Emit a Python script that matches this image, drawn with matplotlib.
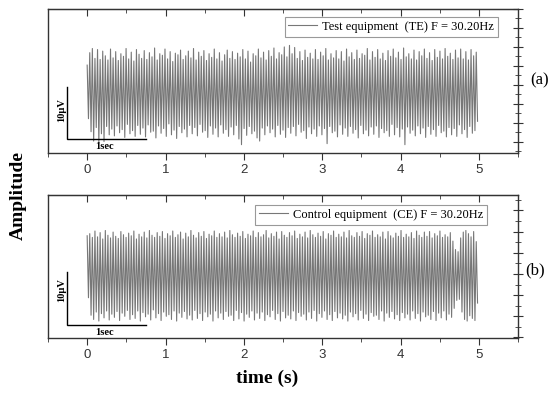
import numpy as np
import matplotlib
matplotlib.use('Agg')
import matplotlib.pyplot as plt
from matplotlib.ticker import MultipleLocator, AutoMinorLocator

F = 30.20  # Hz, as given in the legends

# peak / trough values (uV) per cycle
peaks_te = [3.8, 6.2, 7.0, 5.1, 6.8, 4.9, 6.5, 5.6, 4.8, 6.9,
            5.2, 6.4, 4.7, 6.0, 5.5, 7.0, 5.0, 6.3, 4.6, 6.8,
            5.9, 5.1, 6.6, 4.9, 6.2, 5.4, 7.1, 4.8, 6.0, 5.7,
            6.9, 5.0, 6.4, 4.5, 6.1, 5.8, 6.7, 4.9, 5.6, 6.5,
            5.2, 7.0, 4.8, 6.3, 5.5, 6.6, 4.7, 6.0, 5.3, 6.9,
            5.0, 6.2, 4.6, 5.8, 6.7, 5.1, 6.4, 4.9, 6.1, 5.4,
            6.8, 5.0, 6.5, 4.4, 6.0, 5.6, 6.9, 5.2, 6.3, 4.8,
            6.6, 5.5, 7.1, 5.0, 6.2, 5.8, 7.3, 5.4, 7.6, 6.0,
            7.2, 5.1, 6.4, 4.7, 6.7, 5.3, 6.1, 5.0, 6.8, 4.9,
            6.3, 5.6, 7.0, 4.8, 6.0, 5.2, 6.6, 5.0, 6.4, 4.6,
            6.9, 5.4, 6.2, 4.9, 6.7, 5.1, 6.0, 5.7, 7.0, 4.8,
            6.4, 5.3, 6.8, 5.0, 6.1, 4.7, 6.6, 5.5, 6.9, 5.2,
            6.3, 4.9, 7.1, 5.4, 6.0, 5.0, 6.7, 4.8, 6.4, 5.6,
            6.9, 5.1, 6.2, 4.7, 6.8, 5.3, 6.5, 5.0, 7.0, 5.5,
            6.1, 4.9, 6.7, 5.2, 6.9, 5.0, 6.4, 4.8, 6.8, 5.6, 6.3]
troughs_te = [-6.5, -9.0, -10.8, -8.2, -11.2, -9.4, -10.9, -8.0, -9.6, -8.5,
              -9.8, -7.9, -9.2, -8.6, -10.1, -7.6, -9.4, -8.8, -9.9, -7.8,
              -9.5, -8.3, -10.0, -7.7, -9.1, -8.9, -10.2, -7.9, -9.3, -8.4,
              -9.9, -7.5, -9.6, -8.7, -10.3, -8.0, -9.2, -8.5, -10.0, -7.8,
              -9.4, -8.2, -9.8, -7.6, -9.1, -8.8, -10.1, -7.9, -9.5, -8.3,
              -10.0, -7.7, -9.3, -8.6, -9.9, -8.1, -9.6, -7.8, -10.4, -11.5,
              -8.4, -9.7, -8.0, -9.4, -8.9, -10.2, -10.8, -8.3, -9.6, -7.9,
              -9.2, -8.5, -10.0, -7.8, -9.5, -8.7, -10.1, -8.2, -9.3, -8.0,
              -9.8, -7.6, -9.1, -8.8, -10.3, -8.1, -9.4, -8.5, -9.9, -7.9,
              -9.6, -8.4, -11.3, -8.0, -9.2, -8.9, -10.0, -7.7, -9.5, -8.3,
              -9.9, -8.0, -9.3, -8.6, -10.2, -7.8, -9.4, -8.7, -9.8, -8.1,
              -9.5, -7.9, -10.1, -8.4, -9.2, -8.8, -9.9, -7.6, -9.6, -8.2,
              -10.0, -8.5, -11.5, -8.1, -9.3, -8.7, -9.8, -7.9, -9.4, -8.3,
              -10.1, -8.0, -9.5, -8.6, -9.9, -7.8, -9.2, -8.9, -10.0, -8.2,
              -9.6, -8.4, -9.9, -7.7, -9.4, -8.6, -10.1, -8.0, -9.3, -8.8, -7.0]

peaks_ce = [7.2, 7.6, 6.9, 8.1, 7.0, 7.8, 6.6, 8.2, 7.3, 6.8,
            7.9, 7.1, 6.7, 8.0, 7.4, 6.9, 7.7, 7.2, 8.1, 6.6,
            7.5, 7.0, 7.9, 6.8, 8.2, 7.3, 6.9, 7.8, 7.1, 8.0,
            6.7, 7.6, 7.2, 8.1, 6.9, 7.4, 7.9, 6.6, 7.7, 7.0,
            8.2, 7.3, 6.8, 7.8, 7.1, 8.0, 6.7, 7.5, 7.2, 8.1,
            6.9, 7.6, 7.0, 7.9, 6.8, 8.2, 7.4, 6.9, 7.7, 7.1,
            8.0, 6.7, 7.5, 7.2, 8.1, 6.9, 7.8, 7.0, 7.4, 8.2,
            6.8, 7.6, 7.1, 7.9, 6.6, 8.0, 7.3, 6.9, 7.8, 7.2,
            8.1, 6.7, 7.5, 7.0, 7.9, 6.8, 8.2, 7.4, 6.9, 7.7,
            7.1, 8.0, 6.6, 7.6, 7.3, 8.1, 6.9, 7.5, 7.0, 7.9,
            6.8, 8.2, 7.2, 6.9, 7.8, 7.1, 8.0, 6.7, 7.6, 7.3,
            8.1, 6.9, 7.4, 7.0, 7.9, 6.6, 8.0, 7.2, 6.8, 7.7,
            7.1, 8.2, 6.9, 7.5, 7.0, 7.8, 6.7, 8.1, 7.3, 6.9,
            7.9, 7.1, 8.0, 6.8, 7.6, 7.2, 8.1, 6.9, 7.4, 7.0,
            7.8, 6.2, 4.6, 4.2, 6.8, 7.9, 8.2, 7.6, 7.0, 8.0, 6.1]
troughs_ce = [-4.5, -7.8, -8.6, -7.2, -8.9, -7.5, -8.3, -7.0, -8.7, -7.6,
              -8.2, -7.1, -8.8, -7.4, -8.0, -6.9, -8.6, -7.7, -8.4, -7.0,
              -8.9, -7.3, -8.1, -7.6, -8.7, -6.8, -8.3, -7.5, -8.8, -7.2,
              -8.0, -7.7, -8.6, -7.0, -8.9, -7.4, -8.2, -7.1, -8.5, -7.8,
              -8.7, -6.9, -8.4, -7.5, -8.8, -7.2, -8.1, -7.6, -8.9, -7.0,
              -8.3, -7.4, -8.6, -7.1, -8.0, -7.8, -8.8, -6.9, -8.5, -7.3,
              -8.9, -7.6, -8.2, -7.0, -8.7, -7.4, -8.4, -7.2, -8.8, -7.7,
              -8.1, -6.9, -8.6, -7.5, -8.9, -7.1, -8.3, -7.8, -8.5, -7.0,
              -8.8, -7.3, -8.0, -7.6, -8.7, -7.2, -8.4, -6.9, -8.9, -7.5,
              -8.2, -7.0, -8.6, -7.7, -8.8, -7.1, -8.3, -7.4, -8.5, -7.8,
              -8.9, -7.2, -8.1, -7.5, -8.7, -6.9, -8.4, -7.6, -8.8, -7.3,
              -8.0, -7.8, -8.6, -7.0, -8.9, -7.4, -8.2, -7.1, -8.5, -7.7,
              -8.8, -7.3, -8.3, -7.6, -8.7, -7.0, -8.4, -7.5, -8.9, -7.2,
              -8.1, -7.8, -8.6, -7.1, -8.8, -7.4, -8.3, -7.0, -8.7, -7.6,
              -8.2, -6.5, -5.0, -4.8, -7.2, -8.6, -8.9, -7.9, -8.4, -8.8, -5.5]

labels = ['Test equipment  (TE) F = 30.20Hz', 'Control equipment  (CE) F = 30.20Hz']
panel_tags = ['(a)', '(b)']


def interleave(p, q):
    y = np.empty(len(p) + len(q))
    y[0::2] = p
    y[1::2] = q
    return y


serif = 'Liberation Serif'
sans = 'Liberation Sans'

fig = plt.figure(figsize=(5.5, 3.93), dpi=100)
ax_a = fig.add_axes([48/550, 1-153/393, 470/550, 144/393])
ax_b = fig.add_axes([48/550, 1-338/393, 470/550, 143/393])

setups = [
    (ax_a, peaks_te, troughs_te, (-13.1, 14.6), 3.65, 0.957, 0.944, -10.4, -4.8, -11.9),
    (ax_b, peaks_ce, troughs_ce, (-12.1, 14.9), 4.0, 0.934, 0.930, -9.6, -3.0, -11.1),
]

for i, (ax, pk, tr, ylim, ystep, lx, ly, bar_y, lab_y, sec_y) in enumerate(setups):
    y = interleave(pk, tr)
    t = np.arange(len(y)) / (2 * F)
    ax.plot(t, y, color='#777777', lw=0.8, label=labels[i])

    ax.set_xlim(-0.5, 5.5)
    ax.set_ylim(*ylim)
    ax.xaxis.set_major_locator(MultipleLocator(1))
    ax.xaxis.set_minor_locator(MultipleLocator(0.5))
    ax.yaxis.set_major_locator(MultipleLocator(ystep))
    ax.yaxis.set_minor_locator(AutoMinorLocator(2))

    for s in ax.spines.values():
        s.set_color('#333333')
        s.set_linewidth(1.0)

    # bottom ticks outward, top ticks inward, right ticks crossing
    ax.tick_params(axis='x', which='both', bottom=True, top=False, direction='out',
                   color='#333333', labelsize=9.5, labelcolor='#333333', pad=3)
    ax.tick_params(axis='x', which='major', length=5)
    ax.tick_params(axis='x', which='minor', length=3)
    for lab in ax.get_xticklabels():
        lab.set_family(sans)
    ax.tick_params(axis='y', which='both', left=False, right=True, labelleft=False,
                   direction='inout', color='#333333')
    ax.tick_params(axis='y', which='major', length=7)
    ax.tick_params(axis='y', which='minor', length=4)

    # inward ticks on the top spine
    top = ax.secondary_xaxis('top')
    top.xaxis.set_major_locator(MultipleLocator(1))
    top.xaxis.set_minor_locator(MultipleLocator(0.5))
    top.tick_params(which='both', direction='in', labeltop=False, color='#333333')
    top.tick_params(which='major', length=5)
    top.tick_params(which='minor', length=3)
    top.spines['top'].set_color('#333333')

    leg = ax.legend(loc='upper right', bbox_to_anchor=(lx, ly), borderaxespad=0,
                    prop={'family': serif, 'size': 9}, fancybox=False, framealpha=1,
                    edgecolor='#999999', handlelength=2.3, borderpad=0.3,
                    handletextpad=0.4)
    leg.get_frame().set_linewidth(0.8)

    # scale bar: 10 uV by 1 s
    x0 = -0.255
    ax.plot([x0, x0, x0 + 1.0], [bar_y + 10, bar_y, bar_y], color='black', lw=1.0,
            solid_joinstyle='miter')
    ax.text(x0 - 0.07, lab_y, '10\u00b5V', rotation=90, ha='center', va='center',
            family=serif, fontweight='bold', fontsize=7.5)
    ax.text(x0 + 0.48, sec_y, '1sec', ha='center', va='center',
            family=serif, fontweight='bold', fontsize=7.5)

    fig.text(530/550 if i == 0 else 525/550, 1 - (80 if i == 0 else 270)/393,
             panel_tags[i], family=serif, fontsize=12, ha='left', va='center')

fig.text(18/550, 1-195/393, 'Amplitude', rotation=90, ha='center', va='center',
         family=serif, fontweight='bold', fontsize=14)
fig.text(267/550, 1-378/393, 'time (s)', ha='center', va='center',
         family=serif, fontweight='bold', fontsize=14)

fig.savefig('out.png', dpi=100)
